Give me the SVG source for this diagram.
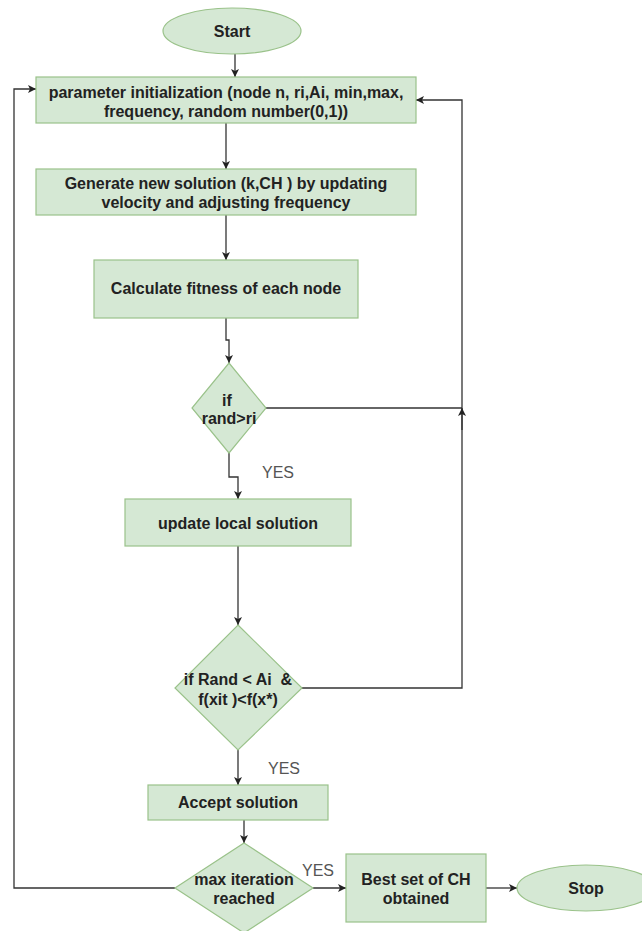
<svg xmlns="http://www.w3.org/2000/svg" width="642" height="931" viewBox="0 0 642 931">
<style>
.n{fill:#d5e8d4;stroke:#9ac28a;stroke-width:1.2}
.t{font-family:"Liberation Sans",Arial,sans-serif;font-weight:bold;font-size:16px;fill:#222;text-anchor:middle}
.y{font-family:"Liberation Sans",Arial,sans-serif;font-size:16px;fill:#555;text-anchor:middle}
.c{fill:none;stroke:#333;stroke-width:1.3}
</style>
<defs>
<marker id="a" viewBox="0 0 10 10" refX="10" refY="5" markerWidth="8" markerHeight="8" markerUnits="userSpaceOnUse" orient="auto">
<path d="M0,0 L10,5 L0,10 L2.5,5 Z" fill="#222"/>
</marker>
</defs>
<rect width="642" height="931" fill="#fff"/>
<g id="connectors">
<path class="c" d="M235,54 V77" marker-end="url(#a)"/>
<path class="c" d="M226,123 V169" marker-end="url(#a)"/>
<path class="c" d="M226,215 V260" marker-end="url(#a)"/>
<path class="c" d="M226,318 V340 H229 V363" marker-end="url(#a)"/>
<path class="c" d="M229,453 V477 H238 V499" marker-end="url(#a)"/>
<path class="c" d="M238,546 V625" marker-end="url(#a)"/>
<path class="c" d="M266,408 H462"/>
<path class="c" d="M302,688 H462 V100 H416" marker-end="url(#a)"/>
<path class="c" d="M462,430 V408" marker-end="url(#a)"/>
<path class="c" d="M238,750 V785" marker-end="url(#a)"/>
<path class="c" d="M244,820 V843" marker-end="url(#a)"/>
<path class="c" d="M175,888 H14 V89 H36" marker-end="url(#a)"/>
<path class="c" d="M313,888 H346" marker-end="url(#a)"/>
<path class="c" d="M486,888 H517" marker-end="url(#a)"/>
<text class="y" x="278" y="478">YES</text>
<text class="y" x="284" y="774">YES</text>
<text class="y" x="318" y="876">YES</text>
</g>
<g id="start">
<ellipse class="n" cx="232" cy="31" rx="69" ry="23"/>
<text class="t" x="232" y="37">Start</text>
</g>
<g id="init">
<rect class="n" x="36" y="77" width="380" height="46"/>
<text class="t" x="226" y="98">parameter initialization (node n, ri,Ai, min,max,</text>
<text class="t" x="226" y="117">frequency, random number(0,1))</text>
</g>
<g id="generate">
<rect class="n" x="36" y="169" width="380" height="46"/>
<text class="t" x="226" y="189">Generate new solution (k,CH ) by updating</text>
<text class="t" x="226" y="208">velocity and adjusting frequency</text>
</g>
<g id="fitness">
<rect class="n" x="94" y="260" width="264" height="58"/>
<text class="t" x="226" y="294">Calculate fitness of each node</text>
</g>
<g id="dec1">
<path class="n" d="M229,363 L266,408 L229,453 L192,408 Z"/>
<text class="t" x="227" y="406">if</text>
<text class="t" x="229" y="424">rand&gt;ri</text>
</g>
<g id="update">
<rect class="n" x="125" y="499" width="226" height="47"/>
<text class="t" x="238" y="529">update local solution</text>
</g>
<g id="dec2">
<path class="n" d="M238,625 L302,688 L238,750 L175,688 Z"/>
<text class="t" x="238" y="685" xml:space="preserve">if Rand &lt; Ai  &amp;</text>
<text class="t" x="238" y="705">f(xit )&lt;f(x*)</text>
</g>
<g id="accept">
<rect class="n" x="148" y="785" width="180" height="35"/>
<text class="t" x="238" y="808">Accept solution</text>
</g>
<g id="dec3">
<path class="n" d="M244,843 L313,888 L244,933 L175,888 Z"/>
<text class="t" x="244" y="885">max iteration</text>
<text class="t" x="244" y="904">reached</text>
</g>
<g id="best">
<rect class="n" x="346" y="854" width="140" height="68"/>
<text class="t" x="416" y="885">Best set of CH</text>
<text class="t" x="416" y="904">obtained</text>
</g>
<g id="stop">
<ellipse class="n" cx="586" cy="888" rx="69" ry="23"/>
<text class="t" x="586" y="894">Stop</text>
</g>
</svg>
